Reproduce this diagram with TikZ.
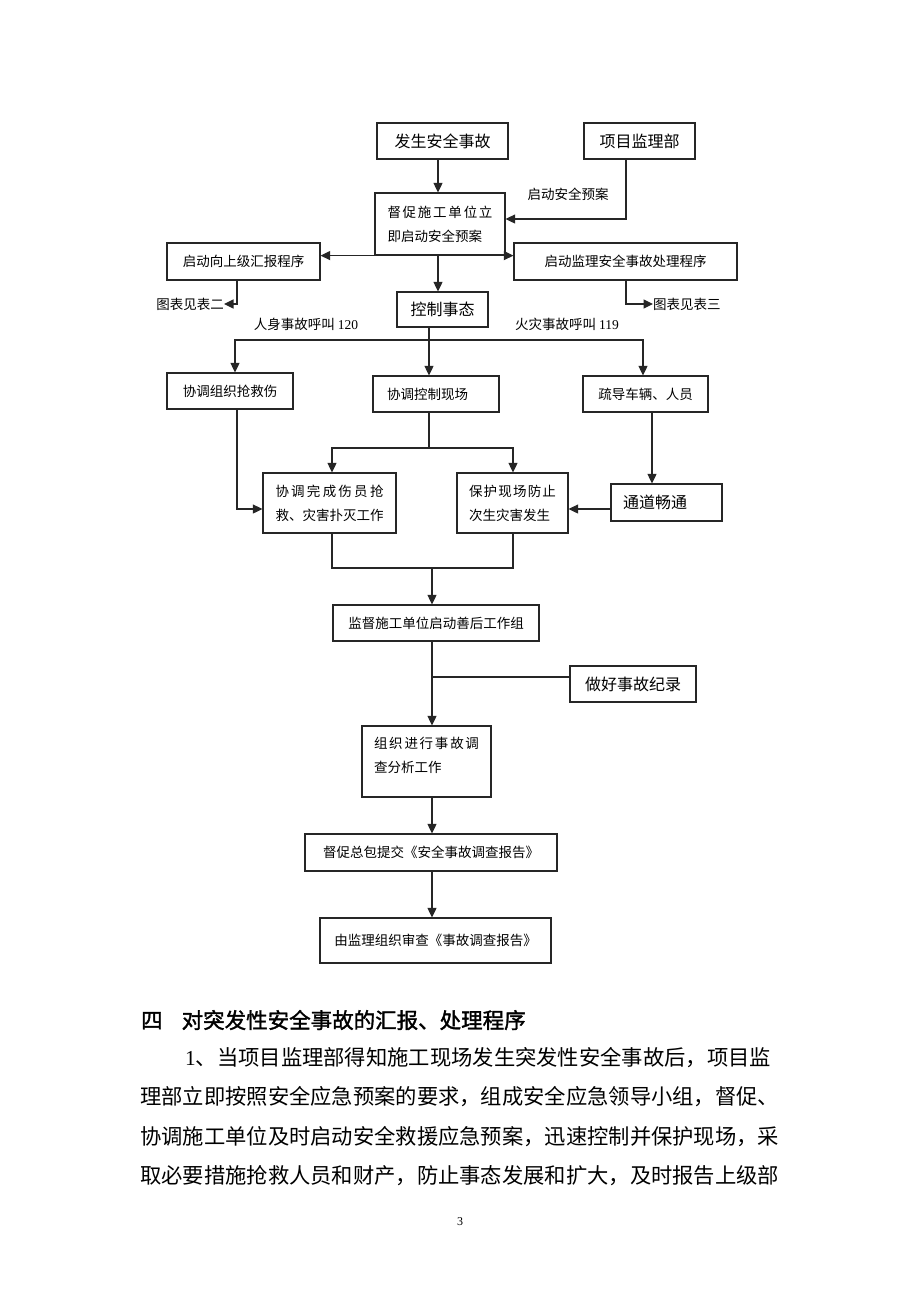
\documentclass[tikz,border=0pt]{standalone}
\usepackage{fontspec}
\setmainfont{Noto Sans CJK SC}
\newfontfamily\lat{Liberation Serif}
\newfontfamily\cjkbold[FakeBold=1.6]{Noto Sans CJK SC}
\usetikzlibrary{arrows.meta}
\tikzset{
  ln/.style={line width=1.1pt, draw=black!85},
  arr/.style={ln, -{Triangle[length=9.5pt,width=9pt]}},
  box/.style={draw=black!85, line width=1.2pt, inner sep=0pt, align=center,
              font=\fontsize{13.5}{24}\selectfont},
  bigbox/.style={box, font=\fontsize{16}{20}\selectfont},
  lab/.style={inner sep=0pt, font=\fontsize{13.5}{16}\selectfont},
  para/.style={anchor=west, inner sep=0pt, font=\fontsize{21.3}{24}\selectfont},
}
\begin{document}
\begin{tikzpicture}[x=1pt,y=-1pt]
\useasboundingbox (0,0) rectangle (920,1302);
\fill[white] (0,0) rectangle (920,1302);

% boxes
\node[bigbox, minimum width=131pt, minimum height=36pt] (A) at (442.5,141) {发生安全事故};
\node[bigbox, minimum width=111pt, minimum height=36pt] (B) at (639.5,141) {项目监理部};
\node[box, align=left, minimum width=130pt, minimum height=62pt] (C) at (440,224)
  {\makebox[105pt][s]{督\hfill 促\hfill 施\hfill 工\hfill 单\hfill 位\hfill 立}\\即启动安全预案};
\node[box, minimum width=153pt, minimum height=37pt] (D) at (243.5,261.5) {启动向上级汇报程序};
\node[box, minimum width=223pt, minimum height=37pt] (E) at (625.5,261.5) {启动监理安全事故处理程序};
\node[bigbox, minimum width=91pt, minimum height=35pt] (F) at (442.5,309.5) {控制事态};
\node[box, minimum width=126pt, minimum height=36pt] (G) at (230,391) {协调组织抢救伤};
\node[box, align=left, text width=98pt, inner xsep=14pt, minimum height=36pt] (H) at (436,394) {协调控制现场};
\node[box, minimum width=125pt, minimum height=36pt] (I) at (645.5,394) {疏导车辆、人员};
\node[box, align=left, minimum width=133pt, minimum height=60pt] (J) at (329.5,503)
  {\makebox[108pt][s]{协\hfill 调\hfill 完\hfill 成\hfill 伤\hfill 员\hfill 抢}\\救、灾害扑灭工作};
\node[box, align=left, minimum width=111pt, minimum height=60pt] (K) at (512.5,503)
  {\makebox[87pt][s]{保\hfill 护\hfill 现\hfill 场\hfill 防\hfill 止}\\次生灾害发生};
\node[bigbox, align=left, text width=87pt, inner xsep=12pt, minimum height=37pt] (L) at (666.5,502.5) {通道畅通};
\node[box, minimum width=206pt, minimum height=36pt] (M) at (436,623) {监督施工单位启动善后工作组};
\node[bigbox, minimum width=126pt, minimum height=36pt] (N) at (633,684) {做好事故纪录};
\node[box, align=left, minimum width=129pt, minimum height=71pt] (O) at (426.5,761.5)
  {\makebox[105pt][s]{组\hfill 织\hfill 进\hfill 行\hfill 事\hfill 故\hfill 调}\\查分析工作\\[-17pt]\strut};
\node[box, minimum width=252pt, minimum height=37pt] (P) at (431,852.5) {督促总包提交《安全事故调查报告》};
\node[box, minimum width=231pt, minimum height=45pt] (Q) at (435.5,940.5) {由监理组织审查《事故调查报告》};

% labels
\node[lab] (lb1) at (568,194) {启动安全预案};
\node[lab, anchor=east] (T2) at (224,304) {图表见表二};
\node[lab, anchor=west] (T3) at (653,304) {图表见表三};
\node[lab] (L120) at (306,324) {人身事故呼叫 {\lat 120}};
\node[lab] (L119) at (567,324) {火灾事故呼叫 {\lat 119}};

% helper coordinates
\coordinate (xa) at (438,0);
\coordinate (bk) at (626,219);
\coordinate (d2) at (237,304);
\coordinate (e3) at (626,304);
\coordinate (fj) at (429,340);
\coordinate (xg) at (235,0);
\coordinate (xi3) at (643,0);
\coordinate (xgj) at (237,0);
\coordinate (yj) at (0,509);
\coordinate (hk) at (429,448);
\coordinate (xj) at (332,0);
\coordinate (xk) at (513,0);
\coordinate (xi) at (652,0);
\coordinate (jm) at (432,568);
\coordinate (yn) at (0,677);

% connectors
\draw[arr] (A.south -| xa) -- (C.north -| xa);
\draw[arr] (B.south -| bk) -- (bk) -- (bk -| C.east);
\draw[arr] (C.south west) -- (C.south west -| D.east);
\draw[arr] (C.south east) -- (C.south east -| E.west);
\draw[arr] (C.south -| xa) -- (F.north -| xa);
\draw[arr] (D.south -| d2) -- (d2) -- (T2.east);
\draw[arr] (E.south -| e3) -- (e3) -- (T3.west);
\draw[arr] (F.south -| fj) -- (H.north -| fj);
\draw[arr] (fj) -| (G.north -| xg);
\draw[arr] (fj) -| (I.north -| xi3);
\draw[arr] (G.south -| xgj) |- (J.west |- yj);
\draw[ln] (H.south -| hk) -- (hk);
\draw[arr] (hk) -| (J.north -| xj);
\draw[arr] (hk) -| (K.north -| xk);
\draw[arr] (I.south -| xi) -- (L.north -| xi);
\draw[arr] (L.west |- yj) -- (K.east |- yj);
\draw[ln] (J.south -| xj) |- (jm) -| (K.south -| xk);
\draw[arr] (jm) -- (M.north -| jm);
\draw[arr] (M.south -| jm) -- (O.north -| jm);
\draw[ln] (N.west |- yn) -- (jm |- yn);
\draw[arr] (O.south -| jm) -- (P.north -| jm);
\draw[arr] (P.south -| jm) -- (Q.north -| jm);

% text below
\node[anchor=west, inner sep=0pt, font=\fontsize{21.5}{24}\cjkbold] (h4) at (141,1020)
  {四\hspace{19pt}对突发性安全事故的汇报、处理程序};
\node[para] (p1) at (185,1058) {{\lat 1}、当项目监理部得知施工现场发生突发性安全事故后，项目监};
\node[para] (p2) at (140,1097) {理部立即按照安全应急预案的要求，组成安全应急领导小组，督促、};
\node[para] (p3) at (140,1137) {协调施工单位及时启动安全救援应急预案，迅速控制并保护现场，采};
\node[para] (p4) at (140,1176) {取必要措施抢救人员和财产，防止事态发展和扩大，及时报告上级部};
\node[inner sep=0pt, font=\fontsize{12}{14}\lat] (pg) at (460,1222) {3};
\end{tikzpicture}
\end{document}
